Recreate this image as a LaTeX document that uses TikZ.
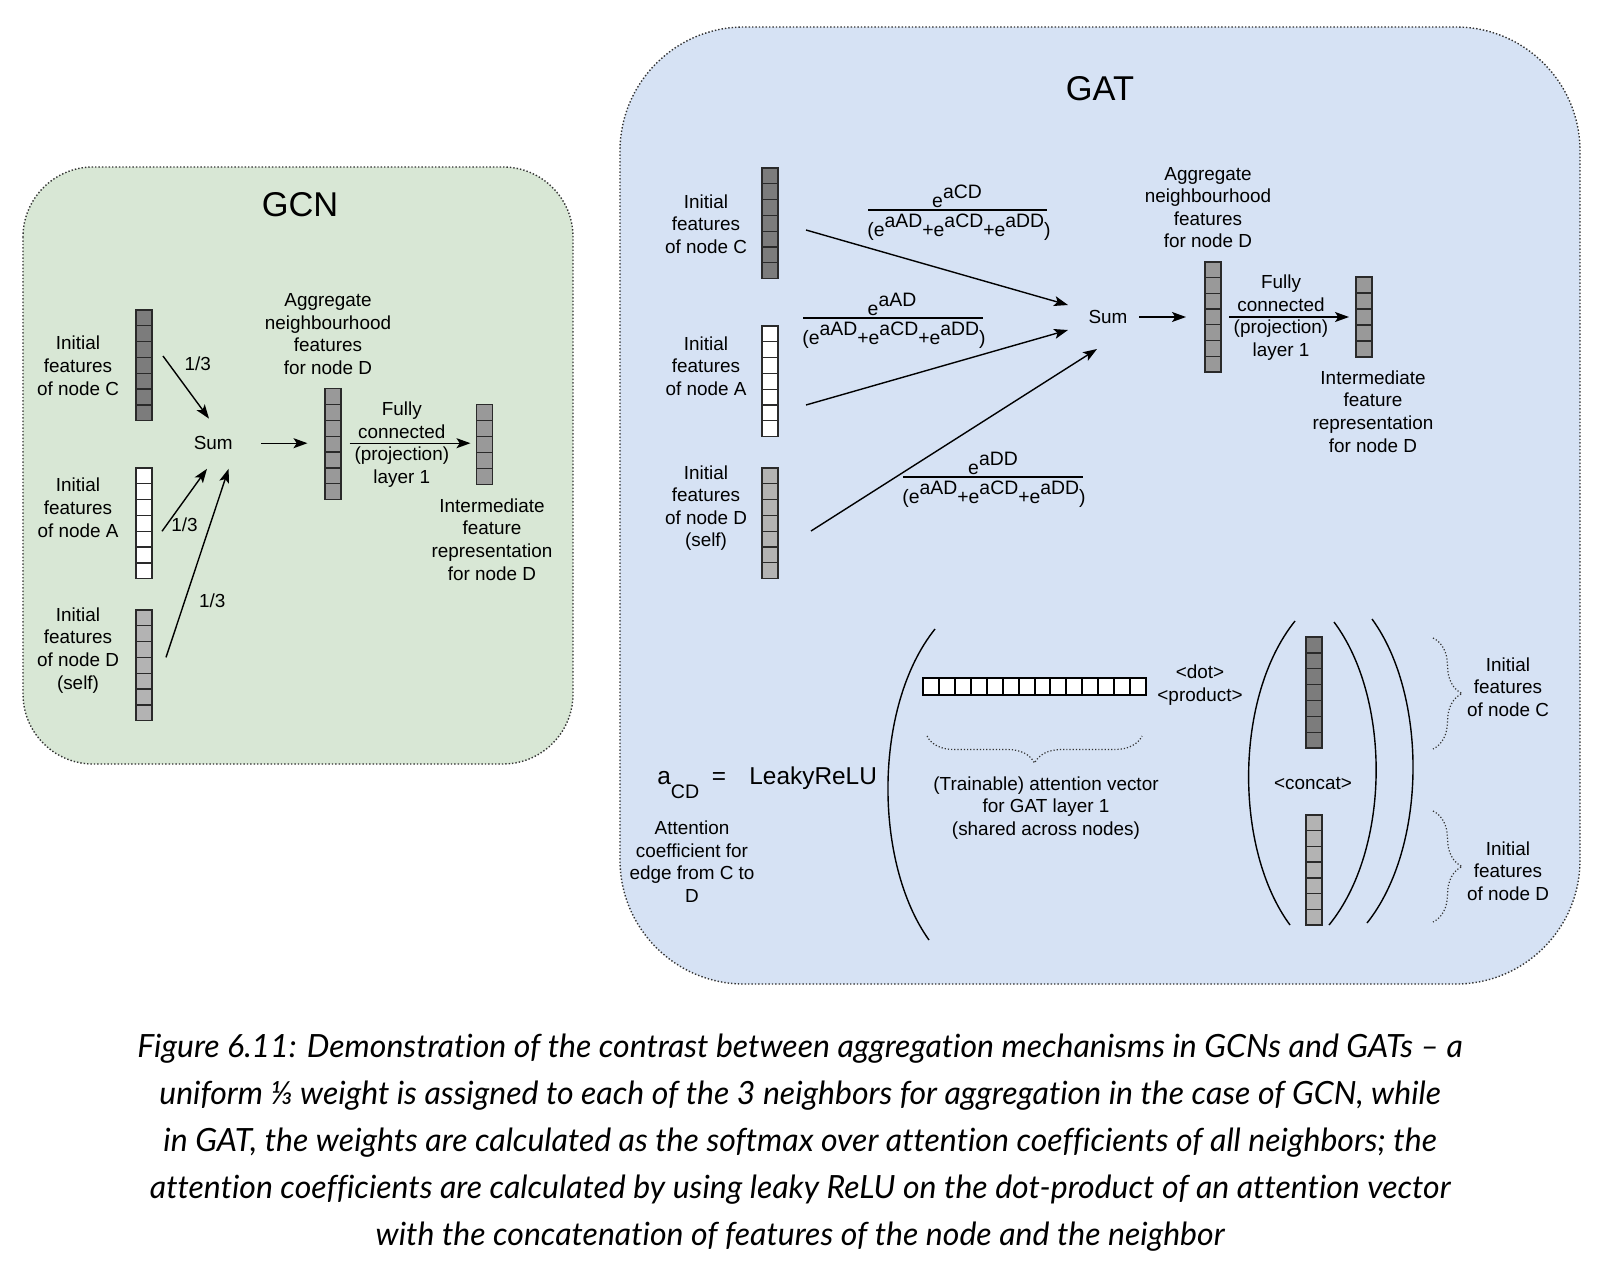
\documentclass[tikz,border=0pt]{standalone}
\usepackage{fontspec}
\setmainfont{Liberation Sans}
\newfontfamily\capfont{Lato}[Ligatures=NoCommon]
\usetikzlibrary{arrows.meta,decorations.pathreplacing}
\definecolor{gcnfill}{HTML}{D8E7D5}
\definecolor{gatfill}{HTML}{D6E2F4}
\definecolor{panelline}{HTML}{333333}
\definecolor{cellline}{HTML}{2A2A2A}
\definecolor{cdark}{HTML}{7C7C7C}
\definecolor{cmid}{HTML}{999999}
\definecolor{clight}{HTML}{B3B3B3}
\tikzset{
  lbl/.style={align=center, font=\fontsize{9.45pt}{11.3pt}\selectfont, inner sep=0pt},
  fr/.style={font=\fontsize{9.7pt}{11pt}\selectfont, inner sep=0pt},
  ttl/.style={font=\fontsize{17.2pt}{19pt}\selectfont, inner sep=0pt},
  big/.style={font=\fontsize{12.2pt}{14pt}\selectfont, inner sep=0pt},
  arr/.style={-{Stealth[length=7pt,width=5pt,inset=1.6pt]}, line width=0.7pt},
  cell/.style={draw=cellline, line width=0.65pt},
  panel/.style={draw=panelline, densely dotted, line width=0.7pt},
  paren/.style={line width=0.7pt},
  dotbrace/.style={draw=panelline, densely dotted, line width=0.6pt, decorate},
  fline/.style={line width=0.7pt},
  captxt/.style={font=\capfont\itshape\fontsize{16pt}{24pt}\selectfont, inner sep=0pt, anchor=base},
}
% vertical feature vector: x, y top, number of cells, cell height, fill
\newcommand\vcol[5]{\foreach \k in {1,...,#3}{\draw[cell,fill=#5] (#1,{#2+(\k-1)*#4}) rectangle ++(16,#4);}}
\newcommand\sups[1]{\raisebox{4.3pt}{#1}}
\begin{document}
\begin{tikzpicture}[x=0.5pt,y=-0.5pt]
\fill[white] (0,0) rectangle (1600,1270);
\useasboundingbox (0,0) rectangle (1600,1270);

% ---------------- GCN panel ----------------
\draw[panel, fill=gcnfill, rounded corners=35pt] (23,167) rectangle (573,764);
\node[ttl] (gcnT) at (300,205) {GCN};

\vcol{136}{310}{7}{15.82}{cdark}
\vcol{136}{468}{7}{15.82}{white}
\vcol{136}{610}{7}{15.82}{clight}
\node[lbl] (gcnLC) at (78,365.8) {Initial\\features\\of node C};
\node[lbl] (gcnLA) at (78,507.7) {Initial\\features\\of node A};
\node[lbl] (gcnLD) at (78,650.2) {Initial\\features\\of node D\\(self)};

\coordinate (gcnCs) at (163,356); \coordinate (gcnCe) at (209,418.6);
\coordinate (gcnAs) at (162,531.3); \coordinate (gcnAe) at (207,468.8);
\coordinate (gcnDs) at (166,657.4); \coordinate (gcnDe) at (228.6,468.8);
\draw[arr] (gcnCs) -- (gcnCe);
\draw[arr] (gcnAs) -- (gcnAe);
\draw[arr] (gcnDs) -- (gcnDe);
\node[lbl] (gcnWC) at (197.8,364) {1/3};
\node[lbl] (gcnWA) at (184.5,525) {1/3};
\node[lbl] (gcnWD) at (212.2,601) {1/3};
\node[lbl] (gcnSum) at (213.2,443.2) {Sum};

\coordinate (gcnSs) at (261.4,443.2); \coordinate (gcnSe) at (307.5,443.2);
\draw[arr] (gcnSs) -- (gcnSe);
\vcol{325}{388.8}{7}{15.82}{cmid}
\node[lbl] (gcnAgg) at (328,334) {Aggregate\\neighbourhood\\features\\for node D};
\coordinate (gcnFs) at (349.5,443.2); \coordinate (gcnFe) at (470.5,443.2);
\draw[arr] (gcnFs) -- (gcnFe);
\node[lbl] (gcnFC) at (401.8,444.7) {Fully\\connected\\(projection)\\layer 1};
\vcol{476.6}{404.2}{5}{16}{cmid}
\node[lbl] (gcnInt) at (492,539.5) {Intermediate\\feature\\representation\\for node D};

% ---------------- GAT panel ----------------
\draw[panel, fill=gatfill, rounded corners=62pt] (620,27) rectangle (1580,984);
\node[ttl] (gatT) at (1100,89) {GAT};

\vcol{762}{168}{7}{15.8}{cdark}
\vcol{762}{326}{7}{15.8}{white}
\vcol{762}{468}{7}{15.8}{clight}
\node[lbl] (gatLC) at (706,224) {Initial\\features\\of node C};
\node[lbl] (gatLA) at (706,366) {Initial\\features\\of node A};
\node[lbl] (gatLD) at (706,508) {Initial\\features\\of node D\\(self)};

\coordinate (gatCs) at (806,230); \coordinate (gatCe) at (1068,305);
\coordinate (gatAs) at (806,405); \coordinate (gatAe) at (1068,330);
\coordinate (gatDs) at (811,531); \coordinate (gatDe) at (1097,349);
\draw[arr] (gatCs) -- (gatCe);
\draw[arr] (gatAs) -- (gatAe);
\draw[arr] (gatDs) -- (gatDe);

% softmax weights
\node[fr, anchor=south] (fCn) at (957,208) {e\sups{aCD}};
\draw[fline] (868,210) -- (1047,210);
\node[fr, anchor=north] (fCd) at (959,214) {(e\sups{aAD}+e\sups{aCD}+e\sups{aDD})};
\node[fr, anchor=south] (fAn) at (892,316) {e\sups{aAD}};
\draw[fline] (803,318) -- (983,318);
\node[fr, anchor=north] (fAd) at (894,322) {(e\sups{aAD}+e\sups{aCD}+e\sups{aDD})};
\node[fr, anchor=south] (fDn) at (993,475) {e\sups{aDD}};
\draw[fline] (903,477) -- (1083,477);
\node[fr, anchor=north] (fDd) at (994,481) {(e\sups{aAD}+e\sups{aCD}+e\sups{aDD})};

\node[lbl] (gatSum) at (1108,317) {Sum};
\coordinate (gatSs) at (1139,317); \coordinate (gatSe) at (1186,317);
\draw[arr] (gatSs) -- (gatSe);
\vcol{1205}{262}{7}{15.7}{cmid}
\node[lbl] (gatAgg) at (1208,207.5) {Aggregate\\neighbourhood\\features\\for node D};
\coordinate (gatFs) at (1229,317); \coordinate (gatFe) at (1349,317);
\draw[arr] (gatFs) -- (gatFe);
\node[lbl] (gatFC) at (1281,317.5) {Fully\\connected\\(projection)\\layer 1};
\vcol{1356}{277}{5}{16}{cmid}
\node[lbl] (gatInt) at (1373,411.5) {Intermediate\\feature\\representation\\for node D};

% ---------------- attention coefficient ----------------
\node[big, anchor=base west] (aCD) at (657,784) {a\raisebox{-7pt}{\fontsize{9.8pt}{10pt}\selectfont CD}};
\node[big, anchor=base] (eqs) at (719,784) {=};
\node[big, anchor=base west] (lrelu) at (749,784) {LeakyReLU};
\node[lbl] (attL) at (692,861.5) {Attention\\coefficient for\\edge from C to\\D};

\draw[paren] (935,629) .. controls (873.3,706) and (873.3,862) .. (929,940);
\draw[paren] (1295,621) .. controls (1234,697) and (1234,849) .. (1290,925);
\draw[paren] (1334,622) .. controls (1391,698) and (1391,849) .. (1329,925);
\draw[paren] (1372,619) .. controls (1427.5,695) and (1427.5,847) .. (1367,923);

\foreach \k in {1,...,14}{\draw[draw=black, line width=1pt, fill=white] ({923+(\k-1)*15.93},678) rectangle ++(15.93,17);}
\draw[dotbrace, decoration={brace, mirror, amplitude=13.5pt}] (927,736) -- (1142,736);
\node[lbl] (attV) at (1046,808) {(Trainable) attention vector\\for GAT layer 1\\(shared across nodes)};
\node[lbl] (dotp) at (1200,685) {<dot>\\<product>};

\vcol{1306}{637}{7}{15.86}{cdark}
\vcol{1306}{815}{7}{15.71}{clight}
\node[lbl] (concat) at (1313,783) {<concat>};

\draw[dotbrace, decoration={brace, amplitude=14.5pt}] (1433,638) -- (1433,749);
\draw[dotbrace, decoration={brace, amplitude=14.5pt}] (1433,811) -- (1433,922);
\node[lbl] (rLC) at (1508,687) {Initial\\features\\of node C};
\node[lbl] (rLD) at (1508,871) {Initial\\features\\of node D};

% ---------------- caption ----------------
\node[captxt] (cap1) at (800,1057) {Figure 6.11: Demonstration of the contrast between aggregation mechanisms in GCNs and GATs – a};
\node[captxt] (cap2) at (800,1104) {uniform ⅓ weight is assigned to each of the 3 neighbors for aggregation in the case of GCN, while};
\node[captxt] (cap3) at (800,1151) {in GAT, the weights are calculated as the softmax over attention coefficients of all neighbors; the};
\node[captxt] (cap4) at (800,1198) {attention coefficients are calculated by using leaky ReLU on the dot-product of an attention vector};
\node[captxt] (cap5) at (800,1245) {with the concatenation of features of the node and the neighbor};
\end{tikzpicture}
\end{document}
